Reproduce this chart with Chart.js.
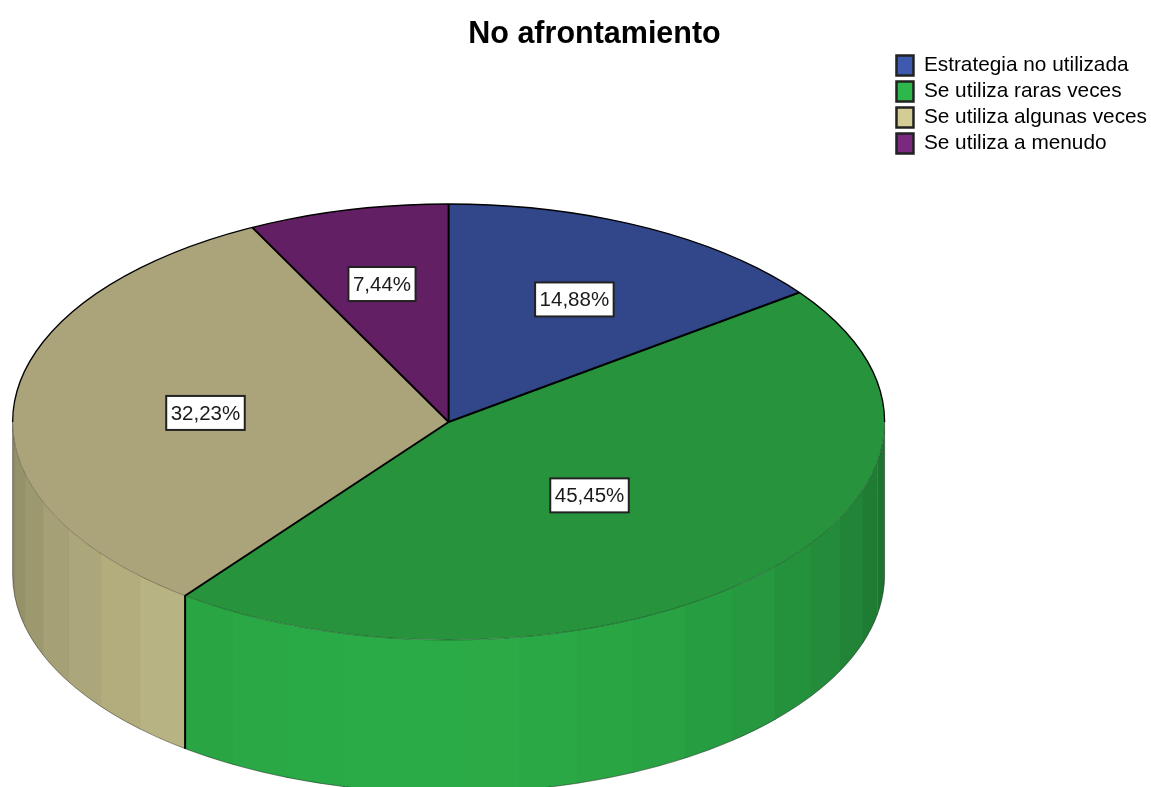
<!DOCTYPE html>
<html>
<head>
<meta charset="utf-8">
<style>
  html, body { margin: 0; background: #fff; overflow: hidden; }
  canvas { display: block; }
</style>
<script src="https://cdn.jsdelivr.net/npm/chart.js@4/dist/chart.umd.min.js"></script>
</head>
<body>
<canvas id="pie" width="1151" height="787"></canvas>
<script>
const titleText = 'No afrontamiento'
const categories = [
  'Estrategia no utilizada',
  'Se utiliza raras veces',
  'Se utiliza algunas veces',
  'Se utiliza a menudo',
]
const percentages = [14.88, 45.45, 32.23, 7.44]

const legendColors = ['#3e5aaf', '#2eb84c', '#d3cd95', '#7a2a7e']
const topColors = ['#31478a', '#27933d', '#aba47a', '#631f63']
const sideColors = [[62, 90, 175], [46, 184, 76], [211, 205, 149], [122, 42, 126]]

// how far out along each slice its value box sits (fraction of radius)
const boxRadial = [0.64, 0.46, 0.56, 0.66]

const RADIUS = 436
const SQUASH = 0.5
const DEPTH = 153
const BAND = (7.8 * Math.PI) / 180

const formatPct = v => v.toFixed(2).replace('.', ',') + '%'

// light falls off toward both sides of the wall
const wallShade = angle =>
  0.63 + 0.3 * Math.max(0, Math.cos(angle - (95 * Math.PI) / 180))

const pie3d = {
  id: 'pie3d',
  afterLayout(chart) {
    chart.titleBlock.left += 13
    chart.titleBlock.right += 13
    chart.legend.top += 50
    chart.legend.bottom += 50
    chart.legend.left += 6
    chart.legend.right += 6
  },
  beforeDatasetsDraw(chart) {
    const ctx = chart.ctx
    const arcs = chart.getDatasetMeta(0).data
    const { x: cx, y: cy } = arcs[0]
    const ry = RADIUS * SQUASH

    ctx.save()
    arcs.forEach((arc, i) => {
      const from = Math.max(arc.startAngle, 0)
      const to = Math.min(arc.endAngle, Math.PI)
      if (to <= from) return
      const [r, g, b] = sideColors[i]
      // facets count away from whichever slice edge is on the wall
      const fromStart = arc.startAngle > 0
      let a = fromStart ? from : to
      while (fromStart ? a < to : a > from) {
        const next = fromStart ? Math.min(a + BAND, to) : Math.max(a - BAND, from)
        const lo = Math.min(a, next)
        const hi = Math.max(a, next)
        const s = wallShade((lo + hi) / 2)
        ctx.fillStyle = `rgb(${r * s}, ${g * s}, ${b * s})`
        ctx.beginPath()
        ctx.ellipse(cx, cy, RADIUS, ry, 0, lo, Math.min(hi + 0.004, to))
        ctx.ellipse(cx, cy + DEPTH, RADIUS, ry, 0, Math.min(hi + 0.004, to), lo, true)
        ctx.closePath()
        ctx.fill()
        a = next
      }
    })

    // silhouette of the wall
    ctx.strokeStyle = 'rgba(0, 0, 0, 0.4)'
    ctx.lineWidth = 1
    ctx.beginPath()
    ctx.moveTo(cx + RADIUS, cy)
    ctx.ellipse(cx, cy + DEPTH, RADIUS, ry, 0, 0, Math.PI)
    ctx.lineTo(cx - RADIUS, cy)
    ctx.stroke()

    // flatten the library's arcs into the tilted top face
    ctx.translate(cx, cy)
    ctx.scale(1, SQUASH)
    ctx.translate(-cx, -cy)
  },
  afterDatasetsDraw(chart) {
    const ctx = chart.ctx
    ctx.restore()

    const arcs = chart.getDatasetMeta(0).data
    const { x: cx, y: cy } = arcs[0]
    const ry = RADIUS * SQUASH

    ctx.save()
    // faint front rim, black back rim
    ctx.strokeStyle = 'rgba(0, 0, 0, 0.3)'
    ctx.lineWidth = 1
    ctx.beginPath()
    ctx.ellipse(cx, cy, RADIUS, ry, 0, 0, Math.PI)
    ctx.stroke()
    ctx.strokeStyle = '#000'
    ctx.lineWidth = 1.3
    ctx.beginPath()
    ctx.ellipse(cx, cy, RADIUS, ry, 0, Math.PI, 2 * Math.PI)
    ctx.stroke()

    // slice edges across the top, and down the wall where they reach it
    ctx.lineWidth = 2
    arcs.forEach(arc => {
      const px = cx + RADIUS * Math.cos(arc.startAngle)
      const py = cy + ry * Math.sin(arc.startAngle)
      ctx.beginPath()
      ctx.moveTo(cx, cy)
      ctx.lineTo(px, py)
      if (Math.sin(arc.startAngle) > 0) ctx.lineTo(px, py + DEPTH)
      ctx.stroke()
    })

    // value boxes
    ctx.font = '20.5px "Liberation Sans"'
    ctx.textAlign = 'center'
    ctx.textBaseline = 'middle'
    arcs.forEach((arc, i) => {
      const mid = (arc.startAngle + arc.endAngle) / 2
      const bx = cx + RADIUS * boxRadial[i] * Math.cos(mid)
      const by = cy + ry * boxRadial[i] * Math.sin(mid) + 2
      const text = formatPct(percentages[i])
      const w = ctx.measureText(text).width + 9
      const h = 34
      ctx.fillStyle = '#fff'
      ctx.fillRect(bx - w / 2, by - h / 2, w, h)
      ctx.strokeStyle = '#222'
      ctx.lineWidth = 2
      ctx.strokeRect(bx - w / 2, by - h / 2, w, h)
      ctx.fillStyle = '#1a1a1a'
      ctx.fillText(text, bx, by + 1)
    })
    ctx.restore()
  },
}

new Chart(document.getElementById('pie').getContext('2d'), {
  type: 'pie',
  data: {
    labels: categories,
    datasets: [
      {
        data: percentages,
        backgroundColor: topColors,
        borderWidth: 0,
        radius: RADIUS,
        clip: false,
      },
    ],
  },
  options: {
    responsive: false,
    animation: false,
    layout: { padding: { left: 12, right: 0, top: 0, bottom: 0 } },
    plugins: {
      tooltip: { enabled: false },
      title: {
        display: true,
        text: titleText,
        color: '#000',
        font: { family: '"Liberation Sans"', size: 30.5, weight: 'bold', lineHeight: 1.2 },
        padding: { top: 16, bottom: 4.4 },
      },
      legend: {
        position: 'right',
        align: 'start',
        labels: {
          color: '#222',
          font: { family: '"Liberation Sans"', size: 20.8 },
          boxWidth: 17,
          boxHeight: 20,
          padding: 5.2,
          generateLabels: chart =>
            chart.data.labels.map((text, i) => ({
              text,
              fillStyle: legendColors[i],
              strokeStyle: '#222',
              lineWidth: 2.5,
              index: i,
            })),
        },
      },
    },
  },
  plugins: [pie3d],
})
</script>
</body>
</html>
